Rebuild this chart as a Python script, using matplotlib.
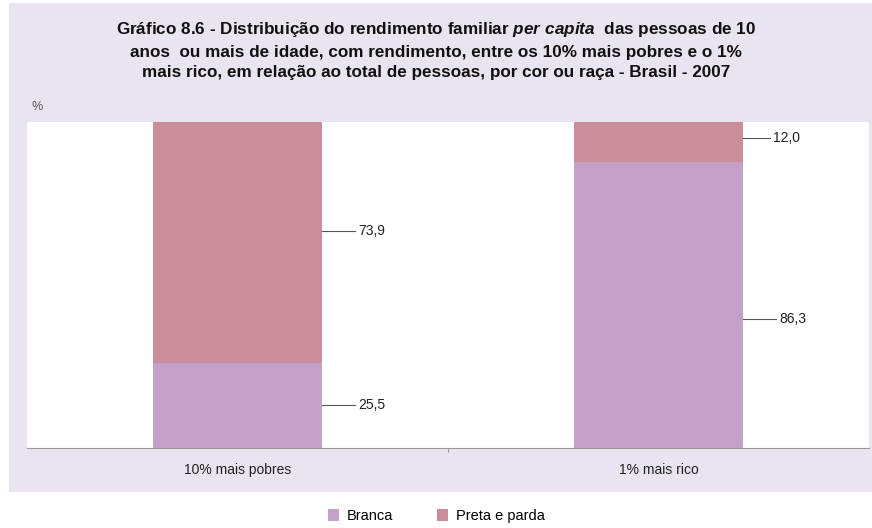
import numpy as np
import matplotlib.pyplot as plt
from matplotlib.patches import Rectangle

# Data
categorias = ["10% mais pobres", "1% mais rico"]
branca = [25.5, 86.3]
preta_parda = [73.9, 12.0]
series_nomes = ["Branca", "Preta e parda"]

cor_branca = "#C4A0C9"
cor_preta = "#C98D9C"
lavanda = "#E9E4F0"

plt.rcParams["font.family"] = ["Liberation Sans", "DejaVu Sans"]
plt.rcParams["mathtext.fontset"] = "custom"
plt.rcParams["mathtext.it"] = "Liberation Sans:italic:bold"
plt.rcParams["mathtext.rm"] = "Liberation Sans:bold"

fig = plt.figure(figsize=(8.72, 5.28), dpi=100)
fig.patch.set_facecolor("white")
# lavender panel behind title and plot
fig.add_artist(Rectangle((9 / 872, 36 / 528), 1 - 9 / 872, 1 - 39 / 528,
                         transform=fig.transFigure, facecolor=lavanda,
                         edgecolor="none", zorder=0))

ax = fig.add_axes([27 / 872, 1 - 448 / 528, (869 - 27) / 872, (448 - 122) / 528])
ax.set_facecolor("white")

x = np.arange(len(categorias))
largura = 0.4
ax.bar(x, branca, width=largura, color=cor_branca, label=series_nomes[0])
ax.bar(x, preta_parda, width=largura, bottom=branca, color=cor_preta,
       label=series_nomes[1])

ax.set_xlim(-0.5, 1.5)
ax.set_ylim(0, 98.3)

# value labels with leader lines (position as fraction of segment)
rotulos = [
    (0, branca[0] * 0.51, branca[0], 0.08),
    (0, branca[0] + preta_parda[0] * 0.54, preta_parda[0], 0.08),
    (1, branca[1] * 0.45, branca[1], 0.08),
    (1, branca[1] + preta_parda[1] * 0.6, preta_parda[1], 0.065),
]
for i, y, v, comp in rotulos:
    x0 = x[i] + largura / 2
    ax.plot([x0, x0 + comp], [y, y], color="#555555", lw=0.8)
    ax.text(x0 + comp + 0.008, y, f"{v:.1f}".replace(".", ","),
            va="center", ha="left", fontsize=10, color="#222222")

for s in ["top", "right", "left"]:
    ax.spines[s].set_visible(False)
ax.spines["bottom"].set_color("#999999")
ax.set_yticks([])
ax.set_xticks([0.5])
ax.set_xticklabels([""])
ax.tick_params(axis="x", length=3, color="#999999")
for i, c in enumerate(categorias):
    ax.text(x[i], -6.5, c, ha="center", va="center", fontsize=10,
            color="#222222")

fig.text(31 / 872, 1 - 107 / 528, "%", fontsize=9, color="#555555",
         ha="left", va="center")

fig.text(0.5, 1 - 50 / 528,
         "Gráfico 8.6 - Distribuição do rendimento familiar $per\\ capita$  das pessoas de 10\n"
         "anos  ou mais de idade, com rendimento, entre os 10% mais pobres e o 1%\n"
         "mais rico, em relação ao total de pessoas, por cor ou raça - Brasil - 2007",
         ha="center", va="center", fontsize=12.3, fontweight="bold",
         color="#111111", linespacing=1.45)

fig.legend(loc="center", bbox_to_anchor=(0.5, 1 - 516 / 528), ncol=2,
           frameon=False, fontsize=10.5, handlelength=0.8, handleheight=0.8,
           columnspacing=3, handletextpad=0.5)

plt.savefig("out.png", dpi=100, facecolor=fig.get_facecolor())
